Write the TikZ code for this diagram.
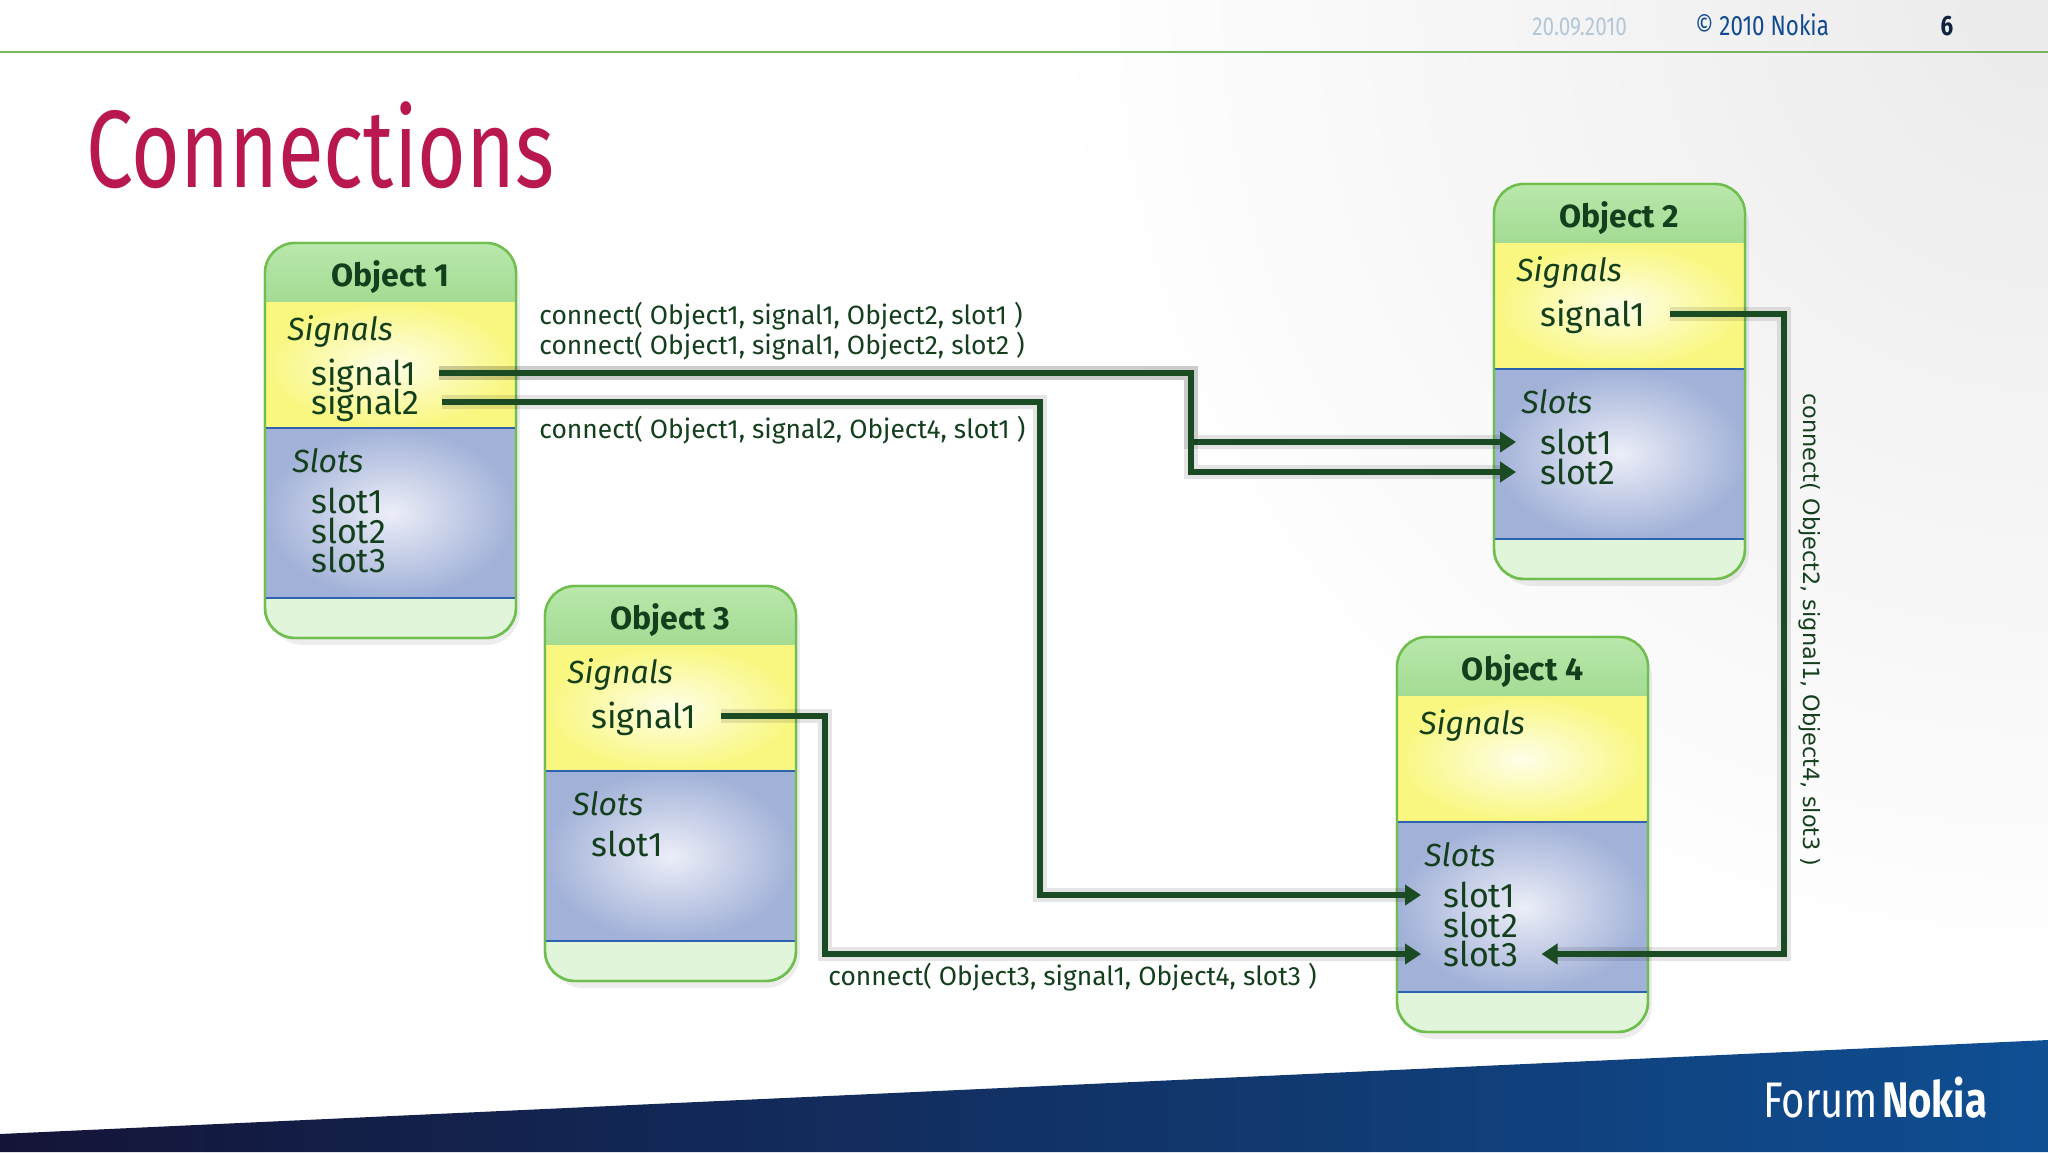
\documentclass[tikz,border=0pt]{standalone}
\usepackage{fontspec}
\setmainfont{Fira Sans}
\newfontfamily\narrowfont{Fira Sans}[FakeStretch=0.8]
\newfontfamily\titlefont{Fira Sans}[FakeStretch=0.76]
\newfontfamily\callfont{DejaVu Sans}
\usepackage{xcolor}
\usepackage{tikz}
\usetikzlibrary{calc,arrows.meta}
\definecolor{titlered}{HTML}{B8174F}
\definecolor{dategray}{HTML}{B3C7DB}
\definecolor{nokiablue}{HTML}{124A92}
\definecolor{pagenavy}{HTML}{0F2340}
\definecolor{rule}{HTML}{7AB55C}
\definecolor{frame}{HTML}{6FBE4E}
\definecolor{hdtop}{HTML}{B9E8AB}
\definecolor{hdbot}{HTML}{98D487}
\definecolor{botgreen}{HTML}{E1F5DA}
\definecolor{yelout}{HTML}{F9F77F}
\definecolor{yelin}{HTML}{FEFEE8}
\definecolor{bluout}{HTML}{A2B1D8}
\definecolor{bluin}{HTML}{ECEEF8}
\definecolor{blueedge}{HTML}{2C62AE}
\definecolor{ink}{HTML}{143F1C}
\definecolor{wiregreen}{HTML}{1B4B22}
\definecolor{bandl}{HTML}{141437}
\definecolor{bandm}{HTML}{12346E}
\definecolor{bandr}{HTML}{0F4F93}
\tikzset{
  boxline/.style={draw=frame, line width=1.2pt, rounded corners=15pt},
  boxshadow/.style={fill=black, opacity=.07, rounded corners=17pt},
  objtitle/.style={anchor=base, inner sep=0pt, text=ink, font=\bfseries\fontsize{16}{18}\selectfont},
  sect/.style={anchor=base west, inner sep=0pt, text=ink, font=\itshape\fontsize{16}{18}\selectfont},
  item/.style={anchor=base west, inner sep=0pt, text=ink, font=\fontsize{17}{19}\selectfont},
  call/.style={anchor=base west, inner sep=0pt, text=ink, font=\fontsize{13.2}{15}\selectfont},
  hdtxt/.style={anchor=base west, inner sep=0pt, font=\narrowfont\fontsize{13}{15}\selectfont},
  conn/.style={draw=wiregreen, line width=3pt, -{Triangle[length=8pt,width=10pt]},
    preaction={draw=black, opacity=.1, line width=7pt}},
}
\begin{document}
\begin{tikzpicture}[x=0.5pt,y=-0.5pt]
\useasboundingbox (0,0) rectangle (2048,1152);
% page background
\fill[white] (0,0) rectangle (2048,1152);
\shade[inner color=black!8, outer color=white] (2048,0) circle (1000);
\shade[left color=bandl, middle color=bandm, right color=bandr] (0,1134) -- (2048,1040) -- (2048,1152) -- (0,1152) -- cycle;
\draw[rule, line width=1.2pt] (0,52) -- (2048,52);
\node[hdtxt, text=dategray] (date) at (1532,35) {20.09.2010};
\node[hdtxt, text=nokiablue, font=\narrowfont\fontsize{14}{16}\selectfont] (copy) at (1695,35) {© 2010 Nokia};
\node[anchor=base, inner sep=0pt, text=pagenavy, font=\narrowfont\bfseries\fontsize{14}{16}\selectfont] (page) at (1947,35) {6};
\node[anchor=base west, inner sep=0pt, text=titlered, font=\titlefont\fontsize{55}{60}\selectfont] (title) at (86,187) {Connections};
\node[anchor=base west, inner sep=0pt, text=white, font=\narrowfont\fontsize{25}{30}\selectfont] (forum) at (1763,1117) {Forum\hspace{2pt}\textbf{Nokia}};

% object boxes
\foreach \n/\x/\y in {1/265/243, 2/1494/184, 3/545/586, 4/1397/637}{
  \coordinate (o\n) at (\x,\y);
  \fill[boxshadow] (\x+4,\y+7) rectangle ++(251,395);
  \draw[boxline, fill=botgreen] (\x,\y) rectangle ++(251,395);
  \shade[top color=hdtop, bottom color=hdbot, rounded corners=15pt] (\x,\y) rectangle (\x+251,\y+90);
  \shade[inner color=yelin, outer color=yelout] (\x,\y+59) rectangle (\x+251,\y+185);
  \shade[inner color=bluin, outer color=bluout] (\x,\y+185) rectangle (\x+251,\y+355);
  \draw[blueedge, line width=1pt] (\x,\y+185) rectangle (\x+251,\y+355);
  \draw[boxline] (\x,\y) rectangle ++(251,395);
  \node[objtitle] (o\n-name) at (\x+125.5,\y+43) {Object \n};
  \node[sect] (o\n-sig) at (\x+22,\y+97) {Signals};
  \node[sect] (o\n-slt) at (\x+27,\y+229) {Slots};
}

% members
\node[item] (o1-sig1) at ($(o1)+(46,142)$) {signal1};
\node[item] (o1-sig2) at ($(o1)+(46,171)$) {signal2};
\node[item] (o1-slot1) at ($(o1)+(46,270)$) {slot1};
\node[item] (o1-slot2) at ($(o1)+(46,300)$) {slot2};
\node[item] (o1-slot3) at ($(o1)+(46,329)$) {slot3};
\node[item] (o2-sig1) at ($(o2)+(46,142)$) {signal1};
\node[item] (o2-slot1) at ($(o2)+(46,270)$) {slot1};
\node[item] (o2-slot2) at ($(o2)+(46,300)$) {slot2};
\node[item] (o3-sig1) at ($(o3)+(46,142)$) {signal1};
\node[item] (o3-slot1) at ($(o3)+(46,270)$) {slot1};
\node[item] (o4-slot1) at ($(o4)+(46,270)$) {slot1};
\node[item] (o4-slot2) at ($(o4)+(46,300)$) {slot2};
\node[item] (o4-slot3) at ($(o4)+(46,329)$) {slot3};

% connect() calls
\node[call] (c1) at (539,324) {connect( Object1, signal1, Object2, slot1 )};
\node[call] (c2) at (539,354) {connect( Object1, signal1, Object2, slot2 )};
\node[call] (c3) at (539,438) {connect( Object1, signal2, Object4, slot1 )};
\node[call] (c4) at (828,985) {connect( Object3, signal1, Object4, slot3 )};
\node[rotate=-90, inner sep=0pt, text=ink, font=\callfont\fontsize{11.2}{13}\selectfont] (c5) at (1810,630) {connect( Object2, signal1, Object4, slot3 )};

\coordinate (j1) at (1191,420);
\coordinate (j2) at (1040,600);
\coordinate (j3) at (825,850);
\coordinate (j4) at (1784,600);
\draw[conn] ([shift={(11pt,6pt)}]o1-sig1.base east) -| (j1) |- ([shift={(-12pt,6pt)}]o2-slot1.base west);
\draw[conn] ([shift={(11pt,6pt)}]o1-sig1.base east) -| (j1) |- ([shift={(-12pt,6pt)}]o2-slot2.base west);
\draw[conn] ([shift={(11pt,6pt)}]o1-sig2.base east) -| (j2) |- ([shift={(-11pt,6pt)}]o4-slot1.base west);
\draw[conn] ([shift={(12pt,6pt)}]o3-sig1.base east) -| (j3) |- ([shift={(-11pt,6pt)}]o4-slot3.base west);
\draw[conn] ([shift={(12pt,6pt)}]o2-sig1.base east) -| (j4) |- ([shift={(11.5pt,6pt)}]o4-slot3.base east);
\end{tikzpicture}
\end{document}
